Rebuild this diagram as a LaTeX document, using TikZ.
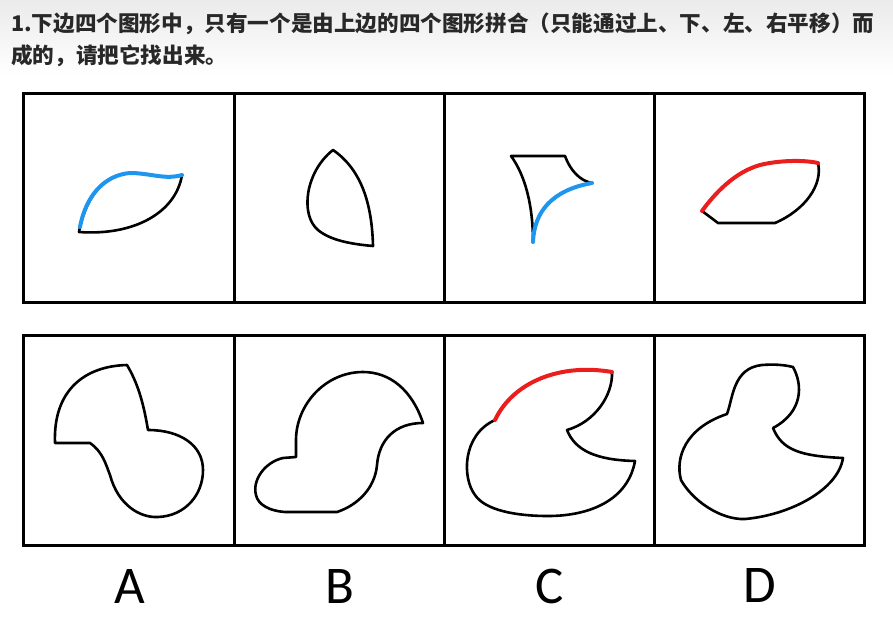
\documentclass[tikz,border=0pt]{standalone}
\usepackage{fontspec}
\newfontfamily\cjk{Noto Sans CJK SC}
\newfontfamily\lblfont{Carlito}
\usepackage{tikz}
\usetikzlibrary{positioning}
\definecolor{titlegray}{RGB}{40,40,40}
\definecolor{markblue}{RGB}{30,150,240}
\definecolor{markred}{RGB}{235,30,30}
\tikzset{
  cell/.style={rectangle,draw=black,line width=3pt,minimum width=210.25pt,minimum height=209pt,inner sep=0pt,outer sep=0pt},
  shp/.style={draw=black,line width=2.6pt,line join=round,line cap=round},
  bluemark/.style={draw=markblue,line width=4pt,line cap=round},
  redmark/.style={draw=markred,line width=4pt,line cap=round},
  lbl/.style={font=\lblfont\fontsize{53}{53}\selectfont,inner sep=0pt},
  qtext/.style={font=\cjk\bfseries\fontsize{21.6}{33}\selectfont,text=titlegray,anchor=west,inner sep=0pt}
}

\begin{document}
\begin{tikzpicture}[x=1pt,y=-1pt]
  \useasboundingbox (0,0) rectangle (893,627);
  \shade[top color=black!8,bottom color=white] (0,0) rectangle (893,75);

  %% QUESTION
  \node[qtext] (q1) at (11,24) {1.下边四个图形中，只有一个是由上边的四个图形拼合（只能通过上、下、左、右平移）而};
  \node[qtext] (q2) at (11,56) {成的，请把它找出来。};

  %% TOP ROW --- PIECES
  \node[cell] (t1) at (129.1,197.5) {};
  \node[cell,right=0pt of t1] (t2) {};
  \node[cell,right=0pt of t2] (t3) {};
  \node[cell,right=0pt of t3] (t4) {};

  %% BOTTOM ROW --- CHOICES
  \node[cell,minimum height=210pt] (b1) at (129.1,440) {};
  \node[cell,minimum height=210pt,right=0pt of b1] (b2) {};
  \node[cell,minimum height=210pt,right=0pt of b2] (b3) {};
  \node[cell,minimum height=210pt,right=0pt of b3] (b4) {};

  %% LABELS
  \node[lbl] (la) at (130,586) {A};
  \node[lbl] (lb) at (340,586) {B};
  \node[lbl] (lc) at (550,586) {C};
  \node[lbl] (ld) at (760,585) {D};

  %% piece 1 -- leaf
  \draw[shp] (79,232) .. controls (86,195) and (105,175) .. (130,173)
    .. controls (150,173) and (165,180) .. (182,175)
    .. controls (176,212) and (135,236) .. (79,232) -- cycle;
  \draw[bluemark] (80,227) .. controls (86,195) and (105,175) .. (130,173)
    .. controls (150,173) and (165,180) .. (182,175);

  %% piece 2 -- drop
  \draw[shp] (333,150) .. controls (305,172) and (300,215) .. (318,230)
    .. controls (330,240) and (350,244) .. (373,246)
    .. controls (372,205) and (362,170) .. (333,150) -- cycle;

  %% piece 3 -- horn
  \draw[shp] (511,156) -- (565,156)
    .. controls (570,170) and (580,181) .. (592,183)
    .. controls (552,190) and (534,212) .. (533,242)
    .. controls (533,205) and (525,175) .. (511,156) -- cycle;
  \draw[bluemark] (592,183) .. controls (552,190) and (534,212) .. (533,242);

  %% piece 4 -- boat
  \draw[shp] (702,211) .. controls (715,193) and (735,172) .. (760,165)
    .. controls (780,160) and (805,160) .. (818,163)
    .. controls (823,185) and (805,210) .. (775,223)
    -- (718,223) -- cycle;
  \draw[redmark] (702,211) .. controls (715,193) and (735,172) .. (760,165)
    .. controls (780,160) and (805,160) .. (818,163);

  %% choice A
  \draw[shp] (55,443) -- (90,443)
    .. controls (103,452) and (106,465) .. (110,475)
    .. controls (118,505) and (140,518) .. (158,517)
    .. controls (185,516) and (203,495) .. (203,470)
    .. controls (203,445) and (180,430) .. (148,430)
    .. controls (143,400) and (137,382) .. (127,365)
    .. controls (85,366) and (53,390) .. (55,443) -- cycle;

  %% choice B
  \draw[shp] (296,457) -- (283,458)
    .. controls (265,462) and (252,480) .. (256,495)
    .. controls (258,505) and (270,511) .. (285,512)
    -- (337,512)
    .. controls (358,505) and (375,488) .. (377,465)
    .. controls (379,440) and (395,423) .. (423,423)
    .. controls (412,390) and (390,372) .. (363,372)
    .. controls (325,372) and (296,405) .. (296,440) -- cycle;

  %% choice C
  \draw[shp] (495,420) .. controls (513,382) and (560,363) .. (612,372)
    .. controls (613,395) and (595,422) .. (567,430)
    .. controls (575,450) and (595,460) .. (635,461)
    .. controls (628,500) and (590,516) .. (548,516)
    .. controls (515,516) and (485,510) .. (475,495)
    .. controls (462,478) and (462,435) .. (495,420) -- cycle;
  \draw[redmark] (495,420) .. controls (513,382) and (560,363) .. (612,372);

  %% choice D
  \draw[shp] (727,414) .. controls (733,398) and (733,368) .. (762,365)
    .. controls (775,364) and (785,365) .. (793,367)
    .. controls (803,385) and (803,412) .. (773,428)
    .. controls (782,450) and (800,456) .. (843,458)
    .. controls (838,490) and (790,515) .. (745,519)
    .. controls (720,520) and (692,500) .. (681,480)
    .. controls (675,458) and (685,428) .. (727,414) -- cycle;
\end{tikzpicture}
\end{document}
